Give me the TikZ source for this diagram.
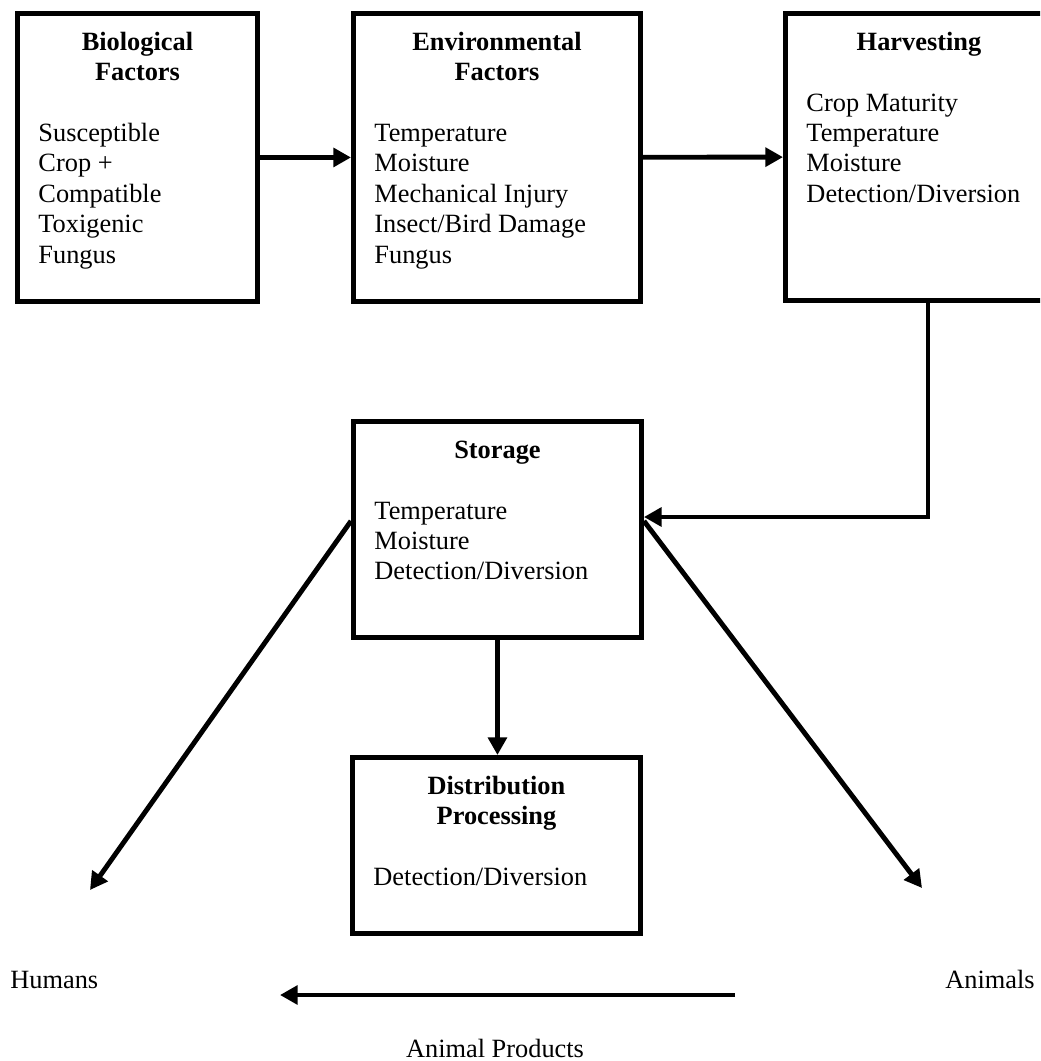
\documentclass[tikz,border=0pt]{standalone}
\usepackage{fontspec}
\setmainfont{Liberation Serif}
\usetikzlibrary{arrows.meta, positioning, calc}

% title centred, body ragged right, fixed height
\newcommand{\boxtext}[4]{\begin{minipage}[t][#2][t]{#1}\strut\centering\textbf{#3}\par\vspace{\baselineskip}\raggedright #4\end{minipage}}

\begin{document}
\begin{tikzpicture}[
    font=\fontsize{15}{17.3}\selectfont,
    stage/.style={draw, line width=2.8pt, inner xsep=0.42cm, inner ysep=0.31cm, anchor=north west},
    conn/.style={line width=2.8pt, -{Triangle[length=10pt,width=10.5pt]}},
    lbl/.style={inner sep=0pt}
]
\useasboundingbox (0,0) rectangle (20.8,-21.22);
\clip (0,0) rectangle (20.8,-21.22);
% top row
\node[stage] (bio) at (0.30,-0.22) {\boxtext{3.96cm}{5.14cm}{Biological\\Factors}{Susceptible\\Crop +\\Compatible\\Toxigenic\\Fungus}};
\node[stage] (env) at (7.02,-0.22) {\boxtext{4.90cm}{5.14cm}{Environmental\\Factors}{Temperature\\Moisture\\Mechanical Injury\\Insect/Bird Damage\\Fungus}};
\node[stage] (harv) at (15.66,-0.22) {\boxtext{4.50cm}{5.12cm}{Harvesting}{Crop Maturity\\Temperature\\Moisture\\Detection/Diversion}};
% middle column
\node[stage] (stor) at (7.02,-8.38) {\boxtext{4.92cm}{3.70cm}{Storage}{Temperature\\Moisture\\Detection/Diversion}};
\node[stage] (dist) at (7.00,-15.10) {\boxtext{4.92cm}{2.90cm}{Distribution\\Processing}{Detection/Diversion}};
% end points
\node[lbl, anchor=base west] (hum) at (0.20,-19.76) {Humans};
\node[lbl, anchor=base east] (ani) at (20.70,-19.76) {Animals};
\node[lbl, anchor=base] (prod) at (9.90,-21.14) {Animal Products};
\coordinate (hbend) at (18.56,-10.34);
\coordinate (split) at (0,-10.42);
\coordinate (humtip) at (1.80,-17.80);
\coordinate (anitip) at (18.44,-17.76);
\coordinate (ptail) at (14.70,-19.90);
\coordinate (phead) at (5.60,-19.90);

\draw[conn] (bio) -- (env);
\draw[conn] (env) -- (harv);
\draw[conn] (harv.south -| hbend) -- (hbend) -- (stor.east |- hbend);
\draw[conn] (stor.south) -- (stor.south |- dist.north);
\draw[conn] (stor.west |- split) -- (humtip);
\draw[conn] (stor.east |- split) -- (anitip);
\draw[conn] (ptail) -- (phead);
\end{tikzpicture}
\end{document}
